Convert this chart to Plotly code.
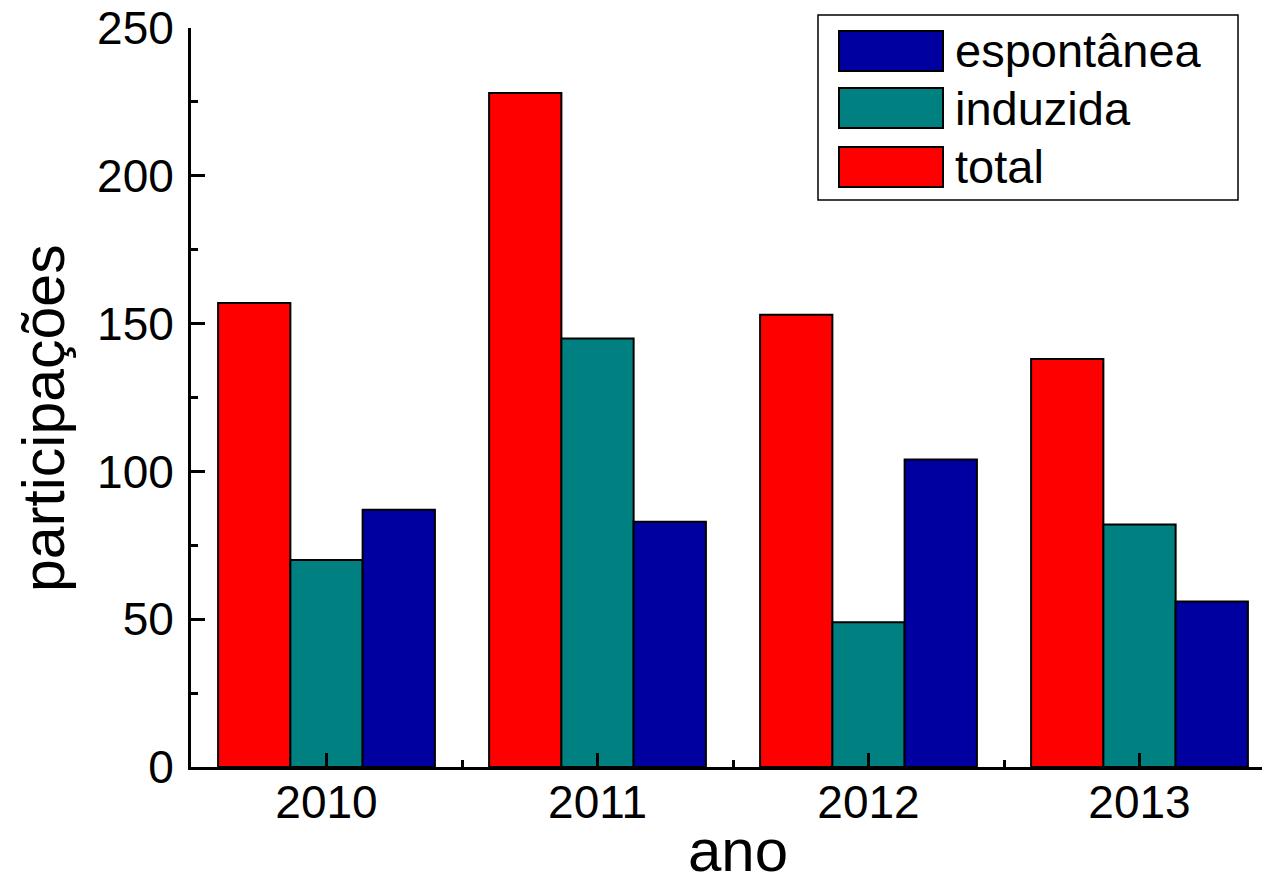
import plotly.graph_objects as go

years = ["2010", "2011", "2012", "2013"]
total = [157, 228, 153, 138]
induzida = [70, 145, 49, 82]
espontanea = [87, 83, 104, 56]

series = [
    ("total", total, "#FF0000"),
    ("induzida", induzida, "#008080"),
    ("espontânea", espontanea, "#0000A0"),
]

W, H = 1262, 884
PLOT_L, PLOT_R, PLOT_T, PLOT_B = 191, 1262, 28, 767
PW, PH = PLOT_R - PLOT_L, PLOT_B - PLOT_T


def px_x(p):
    return (p - PLOT_L) / PW


def px_y(p):
    return (PLOT_B - p) / PH


FONT = "Liberation Sans, Arial, sans-serif"
xs = list(range(len(years)))

fig = go.Figure()
for name, vals, col in series:
    fig.add_trace(go.Bar(
        x=xs, y=vals, name=name,
        marker=dict(color=col, line=dict(color="black", width=2)),
        showlegend=False,
    ))

# custom legend (wide swatches like the reference)
shapes = [dict(type="rect", xref="paper", yref="paper",
               x0=px_x(818), x1=px_x(1238), y0=px_y(200), y1=px_y(15),
               line=dict(color="black", width=1.5), fillcolor="white", layer="above")]
annotations = []
legend_rows = [("espontânea", "#0000A0", 31, 71),
               ("induzida", "#008080", 88, 128),
               ("total", "#FF0000", 147, 187)]
for name, col, y0, y1 in legend_rows:
    shapes.append(dict(type="rect", xref="paper", yref="paper",
                       x0=px_x(839), x1=px_x(943), y0=px_y(y1), y1=px_y(y0),
                       line=dict(color="black", width=2), fillcolor=col, layer="above"))
    annotations.append(dict(xref="paper", yref="paper", x=px_x(953), y=px_y((y0 + y1) / 2),
                            text=name, showarrow=False, xanchor="left", yanchor="middle",
                            font=dict(family=FONT, size=47, color="black")))

# axis titles placed as in the reference
annotations.append(dict(xref="paper", yref="paper", x=px_x(738), y=px_y(850),
                        text="ano", showarrow=False, xanchor="center", yanchor="middle",
                        font=dict(family=FONT, size=60, color="black")))
annotations.append(dict(xref="paper", yref="paper", x=px_x(44), y=px_y(418),
                        text="participações", showarrow=False, textangle=-90,
                        xanchor="center", yanchor="middle",
                        font=dict(family=FONT, size=59, color="black")))

fig.update_layout(
    width=W, height=H,
    margin=dict(l=PLOT_L, r=W - PLOT_R, t=PLOT_T, b=H - PLOT_B, pad=0, autoexpand=False),
    paper_bgcolor="white", plot_bgcolor="white",
    barmode="group", bargap=0.2, bargroupgap=0,
    font=dict(family=FONT, size=46, color="black"),
    shapes=shapes, annotations=annotations,
    xaxis=dict(
        automargin=False,
        range=[-0.5, -0.5 + PW / 271.0],
        tickvals=xs, ticktext=years,
        ticks="inside", ticklen=14, tickwidth=2.5, tickcolor="black",
        minor=dict(tickvals=[0.5, 1.5, 2.5], ticks="inside", ticklen=7, tickwidth=2.5, tickcolor="black"),
        showline=True, linewidth=3, linecolor="black", mirror=False,
        showgrid=False, zeroline=False,
        tickfont=dict(size=46), ticklabelstandoff=-7, ticklabeloverflow="allow",
    ),
    yaxis=dict(
        automargin=False,
        range=[0, 250], tickvals=[0, 50, 100, 150, 200, 250],
        ticks="inside", ticklen=14, tickwidth=2.5, tickcolor="black",
        minor=dict(dtick=25, tick0=0, ticks="inside", ticklen=7, tickwidth=2.5, tickcolor="black"),
        showline=True, linewidth=3, linecolor="black", mirror=False,
        showgrid=False, zeroline=False,
        tickfont=dict(size=46), ticklabelstandoff=5, ticklabeloverflow="allow",
    ),
)

fig.write_html(
    "out.html",
    config={"displayModeBar": False},
    post_script="document.body.style.margin='0';document.body.style.overflow='hidden';",
)
